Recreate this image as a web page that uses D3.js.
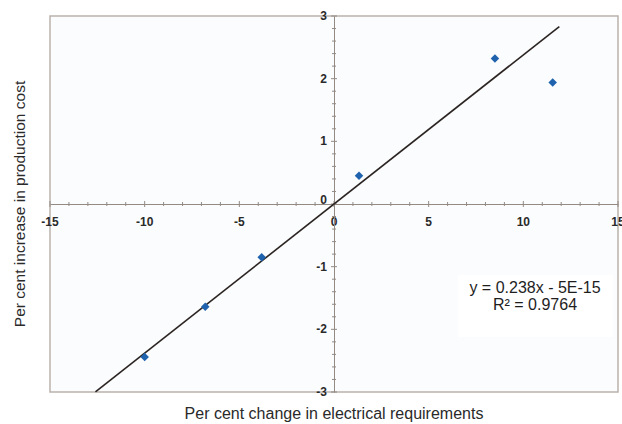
<!DOCTYPE html>
<html>
<head>
<meta charset="utf-8">
<script src="https://cdn.jsdelivr.net/npm/d3@7"></script>
<style>
  body { margin: 0; background: #fff; }
  text { font-family: 'Liberation Sans', Arial, sans-serif; }
</style>
</head>
<body>
<div id="chart"></div>
<script>
// Data
const changeElectrical = [-10, -6.8, -3.82, 1.32, 8.5, 11.55]
const costIncrease = [-2.44, -1.64, -0.85, 0.45, 2.32, 1.94]
const xTicks = [-15, -10, -5, 0, 5, 10, 15]
const yTicks = [-3, -2, -1, 0, 1, 2, 3]
const trendSlope = 0.238
const trendRange = [-12.6, 11.9]
const equationLines = ['y = 0.238x - 5E-15', 'R\u00b2 = 0.9764']

const width = 622
const height = 424
const plot = { left: 50, right: 618, top: 16, bottom: 392 }

const svg = d3.select('#chart')
  .append('svg')
  .attr('width', width)
  .attr('height', height)

const x = d3.scaleLinear().domain([-15, 15]).range([plot.left, plot.right])
const y = d3.scaleLinear().domain([-3, 3]).range([plot.bottom, plot.top])

// Plot area and frame
svg.append('rect')
  .attr('x', plot.left)
  .attr('y', plot.top)
  .attr('width', plot.right - plot.left)
  .attr('height', plot.bottom - plot.top)
  .attr('fill', '#fbfcfd')
  .attr('stroke', '#bab2ac')
  .attr('stroke-width', 1.5)

// Box behind the regression text
svg.append('rect')
  .attr('x', 458)
  .attr('y', 275)
  .attr('width', 155)
  .attr('height', 62)
  .attr('fill', '#ffffff')

// Axes crossing at the origin
const axisColor = '#938a84'

const xAxis = svg.append('g')
  .attr('transform', `translate(0,${y(0)})`)
  .call(d3.axisBottom(x).tickValues([]).tickSize(0))
xAxis.select('.domain').attr('stroke', axisColor)

svg.append('g')
  .selectAll('line')
  .data(d3.range(-15, 15.01, 1))
  .enter()
  .append('line')
  .attr('x1', d => x(d))
  .attr('x2', d => x(d))
  .attr('y1', d => y(0) - (d % 5 === 0 ? 3 : 2))
  .attr('y2', d => y(0) + (d % 5 === 0 ? 3 : 2))
  .attr('stroke', axisColor)

svg.append('g')
  .selectAll('text')
  .data(xTicks)
  .enter()
  .append('text')
  .attr('x', d => x(d))
  .attr('y', y(0) + 22)
  .attr('text-anchor', 'middle')
  .attr('font-size', 12)
  .attr('font-weight', 'bold')
  .attr('fill', '#2a2a2a')
  .text(d => d)

const yAxis = svg.append('g')
  .attr('transform', `translate(${x(0)},0)`)
  .call(d3.axisLeft(y).tickValues([]).tickSize(0))
yAxis.select('.domain').attr('stroke', axisColor)

svg.append('g')
  .selectAll('line')
  .data(d3.range(-3, 3.001, 0.2))
  .enter()
  .append('line')
  .attr('x1', d => x(0) - (Math.abs(d - Math.round(d)) < 0.01 ? 3 : 2))
  .attr('x2', d => x(0) + (Math.abs(d - Math.round(d)) < 0.01 ? 3 : 2))
  .attr('y1', d => y(d))
  .attr('y2', d => y(d))
  .attr('stroke', axisColor)

svg.append('g')
  .selectAll('text')
  .data(yTicks)
  .enter()
  .append('text')
  .attr('x', x(0) - 7)
  .attr('y', d => y(d) + (d === 0 ? 0 : 4))
  .attr('text-anchor', 'end')
  .attr('font-size', 12)
  .attr('font-weight', 'bold')
  .attr('fill', '#2a2a2a')
  .text(d => d)

// Trend line
svg.append('line')
  .attr('x1', x(trendRange[0]))
  .attr('y1', y(trendSlope * trendRange[0]))
  .attr('x2', x(trendRange[1]))
  .attr('y2', y(trendSlope * trendRange[1]))
  .attr('stroke', '#2b2422')
  .attr('stroke-width', 1.6)

// Data points, drawn as squares turned 45 degrees
svg.append('g')
  .selectAll('path')
  .data(changeElectrical)
  .enter()
  .append('path')
  .attr('d', d3.symbol().type(d3.symbolSquare).size(36))
  .attr('transform', (d, i) => `translate(${x(d)},${y(costIncrease[i])}) rotate(45)`)
  .attr('fill', '#1f62ad')

// Regression text
svg.append('g')
  .selectAll('text')
  .data(equationLines)
  .enter()
  .append('text')
  .attr('x', 535)
  .attr('y', (d, i) => 293 + i * 17)
  .attr('text-anchor', 'middle')
  .attr('font-size', 16)
  .attr('fill', '#1e1e1e')
  .text(d => d)

// Axis titles
svg.append('text')
  .attr('x', x(0))
  .attr('y', 419)
  .attr('text-anchor', 'middle')
  .attr('font-size', 16)
  .attr('fill', '#2a2a2a')
  .text('Per cent change in electrical requirements')

svg.append('text')
  .attr('transform', `translate(25,${y(0)}) rotate(-90)`)
  .attr('text-anchor', 'middle')
  .attr('font-size', 15.5)
  .attr('fill', '#2a2a2a')
  .text('Per cent increase in production cost')
</script>
</body>
</html>
